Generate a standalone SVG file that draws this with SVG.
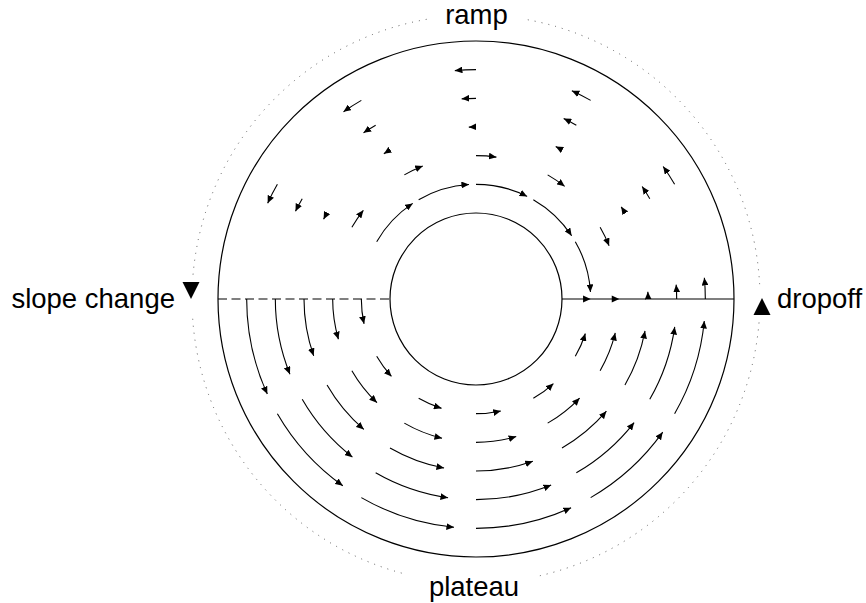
<svg xmlns="http://www.w3.org/2000/svg" width="866" height="603" viewBox="0 0 866 603">
  <style>
    .ring { fill: none; stroke: #000; stroke-width: 1.2; }
    .edge { fill: none; stroke: #000; stroke-width: 1.1; }
    .guide { fill: none; stroke: #5a5a5a; stroke-width: 1; stroke-dasharray: 1 6; }
    .vec { fill: none; stroke: #000; stroke-width: 1.1; marker-end: url(#ah); }
    .lbl { font-family: "Liberation Sans", Arial, sans-serif; font-size: 27.5px; fill: #000; }
  </style>
  <defs>
    <marker id="ah" viewBox="0 0 7.6 6.8" refX="7.6" refY="3.4" markerWidth="7.6" markerHeight="6.8" markerUnits="userSpaceOnUse" orient="auto">
      <path d="M0,0 L7.6,3.4 L0,6.8 z" fill="#000" stroke="none"/>
    </marker>
    <!-- ramp-region vectors at angle 0; rotated into place below -->
    <path id="u1" d="M590.67,299 A114.67,114.67 0 0 1 578.62,350.17"/>
    <path id="u2" d="M619.33,299 A143.33,143.33 0 0 1 617.87,319.44"/>
    <path id="u3" d="M648,299 A172,172 0 0 0 647.85,291.8"/>
    <path id="u4" d="M676.67,299 A200.67,200.67 0 0 0 676.15,284.65"/>
    <path id="u5" d="M705.33,299 A229.33,229.33 0 0 0 704.35,277.82"/>
    <!-- plateau-region vectors at angle 0 -->
    <path id="l1" d="M590.67,299 A114.67,114.67 0 0 0 587.95,274.18"/>
    <path id="l2" d="M619.33,299 A143.33,143.33 0 0 0 613.57,258.77"/>
    <path id="l3" d="M648,299 A172,172 0 0 0 638.33,242.15"/>
    <path id="l4" d="M676.67,299 A200.67,200.67 0 0 0 662.06,223.83"/>
    <path id="l5" d="M705.33,299 A229.33,229.33 0 0 0 684.68,203.9"/>
  </defs>

  <!-- dotted guide circle, broken at the four labels -->
  <g id="guide-circle" class="guide">
    <path d="M759.61,284.14 A284,284 0 0 0 525.32,19.31"/>
    <path d="M426.68,19.31 A284,284 0 0 0 192.69,279.19"/>
    <path d="M192.69,318.81 A284,284 0 0 0 407.29,574.57"/>
    <path d="M539.89,575.72 A284,284 0 0 0 759.31,318.81"/>
  </g>

  <!-- annulus -->
  <g id="annulus">
    <circle class="ring" cx="476" cy="299" r="258"/>
    <circle class="ring" cx="476" cy="299" r="86"/>
  </g>

  <!-- dropoff (solid) and slope change (dashed) seams -->
  <g id="seams">
    <line class="edge" x1="562" y1="299" x2="734" y2="299"/>
    <line class="edge" x1="218" y1="299" x2="390" y2="299" stroke-dasharray="9 4.5"/>
  </g>

  <!-- vector field, upper half -->
  <g id="ramp-field" class="vec">
    <use href="#u3"/><use href="#u4"/><use href="#u5"/>
    <polygon points="583.07,295.6 590.67,299 583.07,302.4" fill="#000" stroke="none" style="marker-end:none"/>
    <polygon points="611.73,295.6 619.33,299 611.73,302.4" fill="#000" stroke="none" style="marker-end:none"/>
    <g transform="rotate(-30 476 299)"><use href="#u1"/><use href="#u2"/><use href="#u3"/><use href="#u4"/><use href="#u5"/></g>
    <g transform="rotate(-60 476 299)"><use href="#u1"/><use href="#u2"/><use href="#u3"/><use href="#u4"/><use href="#u5"/></g>
    <g transform="rotate(-90 476 299)"><use href="#u1"/><use href="#u2"/><use href="#u3"/><use href="#u4"/><use href="#u5"/></g>
    <g transform="rotate(-120 476 299)"><use href="#u1"/><use href="#u2"/><use href="#u3"/><use href="#u4"/><use href="#u5"/></g>
    <g transform="rotate(-150 476 299)"><use href="#u1"/><use href="#u2"/><use href="#u3"/><use href="#u4"/><use href="#u5"/></g>
  </g>

  <!-- vector field, lower half -->
  <g id="plateau-field" class="vec">
    <g transform="rotate(-180 476 299)"><use href="#l1"/><use href="#l2"/><use href="#l3"/><use href="#l4"/><use href="#l5"/></g>
    <g transform="rotate(-210 476 299)"><use href="#l1"/><use href="#l2"/><use href="#l3"/><use href="#l4"/><use href="#l5"/></g>
    <g transform="rotate(-240 476 299)"><use href="#l1"/><use href="#l2"/><use href="#l3"/><use href="#l4"/><use href="#l5"/></g>
    <g transform="rotate(-270 476 299)"><use href="#l1"/><use href="#l2"/><use href="#l3"/><use href="#l4"/><use href="#l5"/></g>
    <g transform="rotate(-300 476 299)"><use href="#l1"/><use href="#l2"/><use href="#l3"/><use href="#l4"/><use href="#l5"/></g>
    <g transform="rotate(-330 476 299)"><use href="#l1"/><use href="#l2"/><use href="#l3"/><use href="#l4"/><use href="#l5"/></g>
  </g>

  <!-- labels -->
  <g id="label-ramp"><text class="lbl" x="476.5" y="24" text-anchor="middle">ramp</text></g>
  <g id="label-plateau"><text class="lbl" x="474" y="595.5" text-anchor="middle">plateau</text></g>
  <g id="label-slope-change">
    <text class="lbl" x="175" y="307.5" text-anchor="end">slope change</text>
    <polygon points="182.5,282 199.5,282 191,299" fill="#000"/>
  </g>
  <g id="label-dropoff">
    <text class="lbl" x="777" y="307.5">dropoff</text>
    <polygon points="753.5,315 770.5,315 762,298" fill="#000"/>
  </g>
</svg>
